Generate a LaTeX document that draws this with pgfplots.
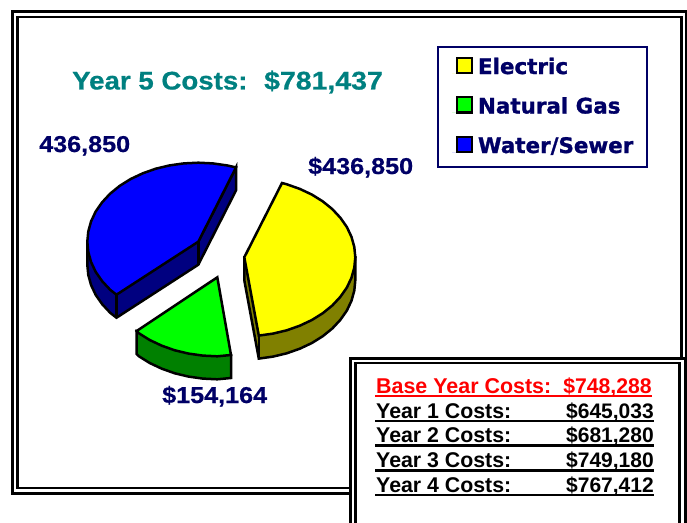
\documentclass[border=0pt]{standalone}
\usepackage{graphicx}
\usepackage{pgfplots}
\pgfplotsset{compat=1.18}
\usepackage{fontspec}
\setmainfont{Liberation Sans}
\newfontfamily\heavy[FakeBold=1.2]{DejaVu Sans Bold}
\newfontfamily\boldx[FakeBold=0.6]{Liberation Sans Bold}
\definecolor{tealt}{HTML}{008080}
\definecolor{navyt}{HTML}{000066}
\definecolor{byel}{HTML}{FFFF00}
\definecolor{dyel}{HTML}{808000}
\definecolor{bgrn}{HTML}{00FF00}
\definecolor{dgrn}{HTML}{008000}
\definecolor{bblu}{HTML}{0000FF}
\definecolor{dblu}{HTML}{000080}
\newcommand{\lab}[1]{\fontsize{#1}{#1}\selectfont\bfseries}
\newcommand{\wide}[3]{\scalebox{#2}[1]{\boldx\fontsize{#1}{#1}\selectfont #3}}
\begin{document}
\begin{tikzpicture}[x=1bp,y=1bp]
\begin{axis}[
  width=687bp,height=523bp,scale only axis,
  xmin=0,xmax=687,ymin=0,ymax=523,y dir=reverse,
  hide axis,
  legend cell align=left,
  legend style={at={(axis cs:437,46)},anchor=north west,draw=navyt,line width=2bp,
    inner xsep=14bp,inner ysep=10bp,row sep=18.5bp,column sep=5bp,
    font=\heavy\fontsize{21.5}{22}\selectfont\color{navyt},
    nodes={inner sep=0pt,anchor=base west,text depth=4bp,text height=16bp}},
  legend image code/.code={\path[draw=none] (0bp,1bp) -- (5bp,1bp);\draw[#1,line width=2bp] (5bp,1bp) rectangle (20bp,16bp);},
  every axis plot/.append style={line join=miter},
]
\path[use as bounding box] (axis cs:0,0) rectangle (axis cs:687,523);
% frame
\addplot[forget plot,black,line width=3bp,fill=white] coordinates {(12.5,12)(686,12)(686,493)(12.5,493)} -- cycle;
\addplot[forget plot,black,line width=2.5bp] coordinates {(17.5,17)(681.5,17)(681.5,488)(17.5,488)} -- cycle;
% yellow side
\addplot[forget plot,draw=black,line width=2.5bp,fill=dyel] coordinates {(244.3,257.3)(244.3,280.3)(258.8,358.6)(273,356.6)(286.8,353.3)(299.8,348.7)(311.9,343)(322.8,336.2)(332.4,328.4)(340.4,319.8)(346.9,310.5)(351.5,300.7)(354.3,290.6)(355.3,280.3)(355.3,257.3)} -- cycle;
\addplot[forget plot,black,line width=2.5bp] coordinates {(258.8,335.6)(258.8,358.6)};
% yellow top
\addplot[draw=black,fill=byel,line width=2.5bp] coordinates {(244.3,257.3)(282,183)(286.8,184.3)(299.8,188.9)(311.9,194.6)(322.8,201.4)(332.4,209.2)(340.4,217.8)(346.9,227.1)(351.5,236.9)(354.3,247)(355.3,257.3)(354.3,267.6)(351.5,277.7)(346.9,287.5)(340.4,296.8)(332.4,305.4)(322.8,313.2)(311.9,320)(299.8,325.7)(286.8,330.3)(273,333.6)(258.8,335.6)} -- cycle;
\addlegendentry{Electric}
% green side
\addplot[forget plot,draw=black,line width=2.5bp,fill=dgrn] coordinates {(136.7,331)(136.7,354)(138.8,356.2)(149.7,363)(161.8,368.7)(174.8,373.3)(188.6,376.6)(202.8,378.6)(217.3,379.3)(231,378)(231,355)} -- cycle;
% green top
\addplot[draw=black,fill=bgrn,line width=2.5bp] coordinates {(217.3,277.3)(231,355)(217.3,356.3)(202.8,355.6)(188.6,353.6)(174.8,350.3)(161.8,345.7)(149.7,340)(138.8,333.2)(136.7,331)} -- cycle;
\addlegendentry{Natural Gas}
% blue side
\addplot[forget plot,draw=black,line width=2.5bp,fill=dblu] coordinates {(87.3,241.7)(87.3,264.7)(88.3,275)(91.1,285.1)(95.7,294.9)(102.2,304.2)(110.2,312.8)(116.5,317.7)(198.3,264.7)(236,190.4)(236,167.4)(198.3,241.7)} -- cycle;
\addplot[forget plot,black,line width=2.5bp] coordinates {(116.5,294.7)(116.5,317.7)};
\addplot[forget plot,black,line width=2.5bp] coordinates {(198.3,241.7)(198.3,264.7)};
% blue top
\addplot[draw=black,fill=bblu,line width=2.5bp] coordinates {(198.3,241.7)(236,167.4)(227,165.4)(212.8,163.4)(198.3,162.7)(183.8,163.4)(169.6,165.4)(155.8,168.7)(142.8,173.3)(130.7,179)(119.8,185.8)(110.2,193.6)(102.2,202.2)(95.7,211.5)(91.1,221.3)(88.3,231.4)(87.3,241.7)(88.3,252)(91.1,262.1)(95.7,271.9)(102.2,281.2)(110.2,289.8)(116.5,294.7)} -- cycle;
\addlegendentry{Water/Sewer}
% inset box
\addplot[forget plot,black,line width=3bp,fill=white] coordinates {(350.5,358)(685,358)(685,535)(350.5,535)} -- cycle;
\addplot[forget plot,black,line width=2.5bp] coordinates {(355.5,363)(679.5,363)(679.5,535)(355.5,535)} -- cycle;
% underlines
\addplot[forget plot,red,line width=2.4bp] coordinates {(375,396)(652,396)};
\addplot[forget plot,black,line width=2.7bp] coordinates {(375,421)(654,421)};
\addplot[forget plot,black,line width=2.7bp] coordinates {(375,445.5)(654,445.5)};
\addplot[forget plot,black,line width=2.7bp] coordinates {(375,470.5)(654,470.5)};
\addplot[forget plot,black,line width=2.7bp] coordinates {(375,495)(654,495)};
% text
\node[anchor=base west,inner sep=0,text=tealt] at (axis cs:72,89.5) {\wide{25.6}{1.085}{Year 5 Costs:}};
\node[anchor=base west,inner sep=0,text=tealt] at (axis cs:264,89.5) {\wide{25.6}{1.115}{\$781,437}};
\node[anchor=base west,inner sep=0,text=navyt] at (axis cs:39,152) {\wide{23}{1.098}{436,850}};
\node[anchor=base west,inner sep=0,text=navyt] at (axis cs:308,174) {\wide{23}{1.098}{\$436,850}};
\node[anchor=base west,inner sep=0,text=navyt] at (axis cs:162,403) {\wide{23}{1.098}{\$154,164}};
\node[anchor=base west,inner sep=0,text=red] at (axis cs:376,393) {\lab{21.5}Base Year Costs:};
\node[anchor=base east,inner sep=0,text=red] at (axis cs:652,393) {\lab{21.3}\$748,288};
\node[anchor=base west,inner sep=0] at (axis cs:376,418) {\lab{21.4}Year 1 Costs:};
\node[anchor=base east,inner sep=0] at (axis cs:654,418) {\lab{21.1}\$645,033};
\node[anchor=base west,inner sep=0] at (axis cs:376,442.5) {\lab{21.4}Year 2 Costs:};
\node[anchor=base east,inner sep=0] at (axis cs:654,442.5) {\lab{21.1}\$681,280};
\node[anchor=base west,inner sep=0] at (axis cs:376,467) {\lab{21.4}Year 3 Costs:};
\node[anchor=base east,inner sep=0] at (axis cs:654,467) {\lab{21.1}\$749,180};
\node[anchor=base west,inner sep=0] at (axis cs:376,492) {\lab{21.4}Year 4 Costs:};
\node[anchor=base east,inner sep=0] at (axis cs:654,492) {\lab{21.1}\$767,412};
\end{axis}
\end{tikzpicture}
\end{document}
